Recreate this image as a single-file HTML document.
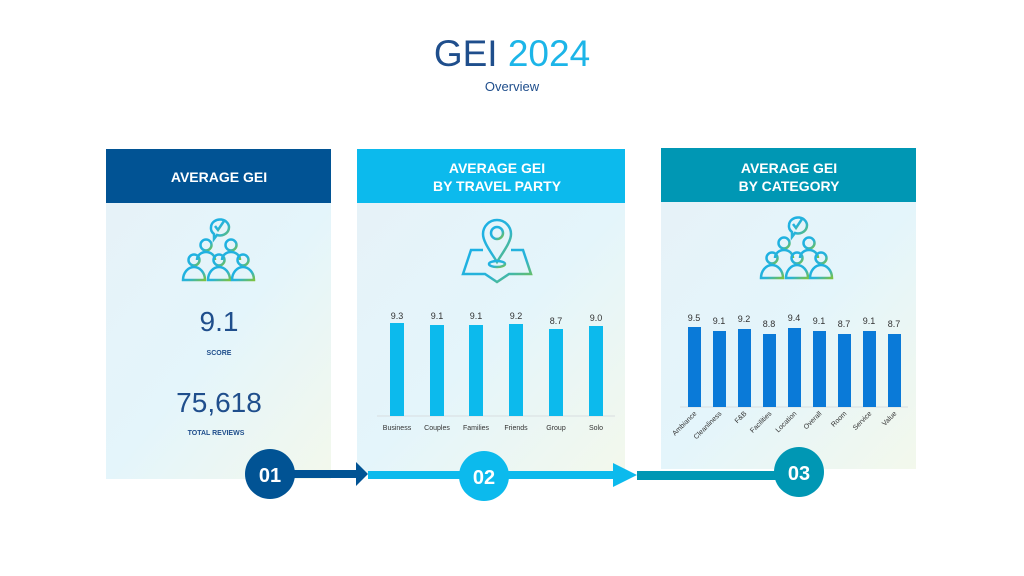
<!DOCTYPE html>
<html><head><meta charset="utf-8"><style>
html,body{margin:0;padding:0;background:#fff;}
svg{display:block;font-family:"Liberation Sans",Arial,sans-serif;}
</style></head><body>
<svg width="1024" height="576" viewBox="0 0 1024 576" xmlns="http://www.w3.org/2000/svg">
<defs>
<linearGradient id="pbg" x1="0" y1="0" x2="1" y2="1">
<stop offset="0" stop-color="#e6f2f8"/><stop offset="0.5" stop-color="#e4f5fb"/><stop offset="1" stop-color="#f3f8ec"/>
</linearGradient>
<linearGradient id="ic" x1="0" y1="0" x2="1" y2="1">
<stop offset="0" stop-color="#1ab0e6"/><stop offset="0.6" stop-color="#28b3d8"/><stop offset="1" stop-color="#7cc242"/>
</linearGradient>
<g id="people" fill="none" stroke="url(#ic)" stroke-width="2.5">
<path d="M-8,-23 a9,8 0 1 1 6,8 l-3,4 l0,-5 a9,8 0 0 1 -3,-7z"/>
<path d="M-4,-24 l3,4 l6,-9"/>
<circle cx="-13" cy="-5" r="5.5"/><circle cx="12" cy="-5" r="5.5"/>
<path d="M-22,10 a9,8 0 0 1 18,0"/><path d="M3,10 a9,8 0 0 1 18,0"/>
<circle cx="-25" cy="10" r="5.5"/><circle cx="0" cy="10" r="5.5"/><circle cx="24" cy="10" r="5.5"/>
<path d="M-36,30 a11,13 0 0 1 22,0 z"/><path d="M-11,30 a11,13 0 0 1 22,0 z"/><path d="M13,30 a11,13 0 0 1 22,0 z"/>
</g>
</defs>
<text x="512" y="66" text-anchor="middle" font-size="37" fill="#1f4e8c">GEI <tspan fill="#1cb5e8">2024</tspan></text>
<text x="512" y="91" text-anchor="middle" font-size="13" fill="#1f4e8c">Overview</text>

<!-- panel 1 -->
<rect x="106" y="203" width="225" height="276" fill="url(#pbg)"/>
<rect x="106" y="149" width="225" height="54" fill="#015394"/>
<text x="219" y="182" text-anchor="middle" font-size="14" font-weight="bold" fill="#fff">AVERAGE GEI</text>
<use href="#people" x="219" y="250"/>
<text x="219" y="331" text-anchor="middle" font-size="28" fill="#1f4e8c">9.1</text>
<text x="219" y="355" text-anchor="middle" font-size="7" font-weight="bold" fill="#1f4e8c">SCORE</text>
<text x="219" y="412" text-anchor="middle" font-size="28" fill="#1f4e8c">75,618</text>
<text x="216" y="435" text-anchor="middle" font-size="7" font-weight="bold" fill="#1f4e8c">TOTAL REVIEWS</text>

<!-- panel 2 -->
<rect x="357" y="203" width="268" height="270" fill="url(#pbg)"/>
<rect x="357" y="149" width="268" height="54" fill="#0cbaed"/>
<text x="497" y="173" text-anchor="middle" font-size="14" font-weight="bold" fill="#fff">AVERAGE GEI</text>
<text x="497" y="191" text-anchor="middle" font-size="14" font-weight="bold" fill="#fff">BY TRAVEL PARTY</text>
<g fill="none" stroke="url(#ic)" stroke-width="2.5">
<path d="M497,262 c-6,-10 -14,-20 -14,-28 a14,14 0 1 1 28,0 c0,8 -8,18 -14,28z"/>
<circle cx="497" cy="233" r="6"/>
<path d="M483,250 l-12,0 l-8,24 l22,0 l12,8 l12,-8 l22,0 l-8,-24 l-12,0"/>
<path d="M497,266 l0,15"/>
<ellipse cx="497" cy="264" rx="8" ry="3"/>
</g>
<line x1="377" y1="416" x2="615" y2="416" stroke="#d8dde0" stroke-width="1"/>
<g fill="#0cbaed">
<rect x="390" y="323" width="14" height="93"/><rect x="430" y="325" width="14" height="91"/>
<rect x="469" y="325" width="14" height="91"/><rect x="509" y="324" width="14" height="92"/>
<rect x="549" y="329" width="14" height="87"/><rect x="589" y="326" width="14" height="90"/>
</g>
<g font-size="9" fill="#333" text-anchor="middle">
<text x="397" y="319">9.3</text><text x="437" y="319">9.1</text><text x="476" y="319">9.1</text>
<text x="516" y="319">9.2</text><text x="556" y="324">8.7</text><text x="596" y="321">9.0</text>
</g>
<g font-size="7" fill="#333" text-anchor="middle">
<text x="397" y="430">Business</text><text x="437" y="430">Couples</text><text x="476" y="430">Families</text>
<text x="516" y="430">Friends</text><text x="556" y="430">Group</text><text x="596" y="430">Solo</text>
</g>

<!-- panel 3 -->
<rect x="661" y="202" width="255" height="267" fill="url(#pbg)"/>
<rect x="661" y="148" width="255" height="54" fill="#0097b4"/>
<text x="789" y="173" text-anchor="middle" font-size="14" font-weight="bold" fill="#fff">AVERAGE GEI</text>
<text x="789" y="191" text-anchor="middle" font-size="14" font-weight="bold" fill="#fff">BY CATEGORY</text>
<use href="#people" x="797" y="248"/>
<line x1="680" y1="407" x2="908" y2="407" stroke="#d8dde0" stroke-width="1"/>
<g fill="#0a7ad8">
<rect x="688" y="327" width="13" height="80"/><rect x="713" y="331" width="13" height="76"/>
<rect x="738" y="329" width="13" height="78"/><rect x="763" y="334" width="13" height="73"/>
<rect x="788" y="328" width="13" height="79"/><rect x="813" y="331" width="13" height="76"/>
<rect x="838" y="334" width="13" height="73"/><rect x="863" y="331" width="13" height="76"/>
<rect x="888" y="334" width="13" height="73"/>
</g>
<g font-size="9" fill="#333" text-anchor="middle">
<text x="694" y="321">9.5</text><text x="719" y="324">9.1</text><text x="744" y="322">9.2</text>
<text x="769" y="327">8.8</text><text x="794" y="321">9.4</text><text x="819" y="324">9.1</text>
<text x="844" y="327">8.7</text><text x="869" y="324">9.1</text><text x="894" y="327">8.7</text>
</g>
<g font-size="7" fill="#333" text-anchor="end">
<text transform="translate(697,414) rotate(-45)">Ambiance</text>
<text transform="translate(722,414) rotate(-45)">Cleanliness</text>
<text transform="translate(747,414) rotate(-45)">F&amp;B</text>
<text transform="translate(772,414) rotate(-45)">Facilities</text>
<text transform="translate(797,414) rotate(-45)">Location</text>
<text transform="translate(822,414) rotate(-45)">Overall</text>
<text transform="translate(847,414) rotate(-45)">Room</text>
<text transform="translate(872,414) rotate(-45)">Service</text>
<text transform="translate(897,414) rotate(-45)">Value</text>
</g>

<!-- timeline -->
<rect x="290" y="470" width="67" height="8" fill="#015394"/>
<polygon points="356,462 368,474 356,486" fill="#015394"/>
<rect x="368" y="471" width="247" height="8" fill="#0cbaed"/>
<polygon points="613,463 637,475 613,487" fill="#0cbaed"/>
<rect x="637" y="471" width="145" height="9" fill="#0097b4"/>
<circle cx="270" cy="474" r="25" fill="#015394"/>
<circle cx="484" cy="476" r="25" fill="#0cbaed"/>
<circle cx="799" cy="472" r="25" fill="#0097b4"/>
<g font-size="20" font-weight="bold" fill="#fff" text-anchor="middle">
<text x="270" y="482">01</text><text x="484" y="484">02</text><text x="799" y="480">03</text>
</g>
</svg>
</body></html>
